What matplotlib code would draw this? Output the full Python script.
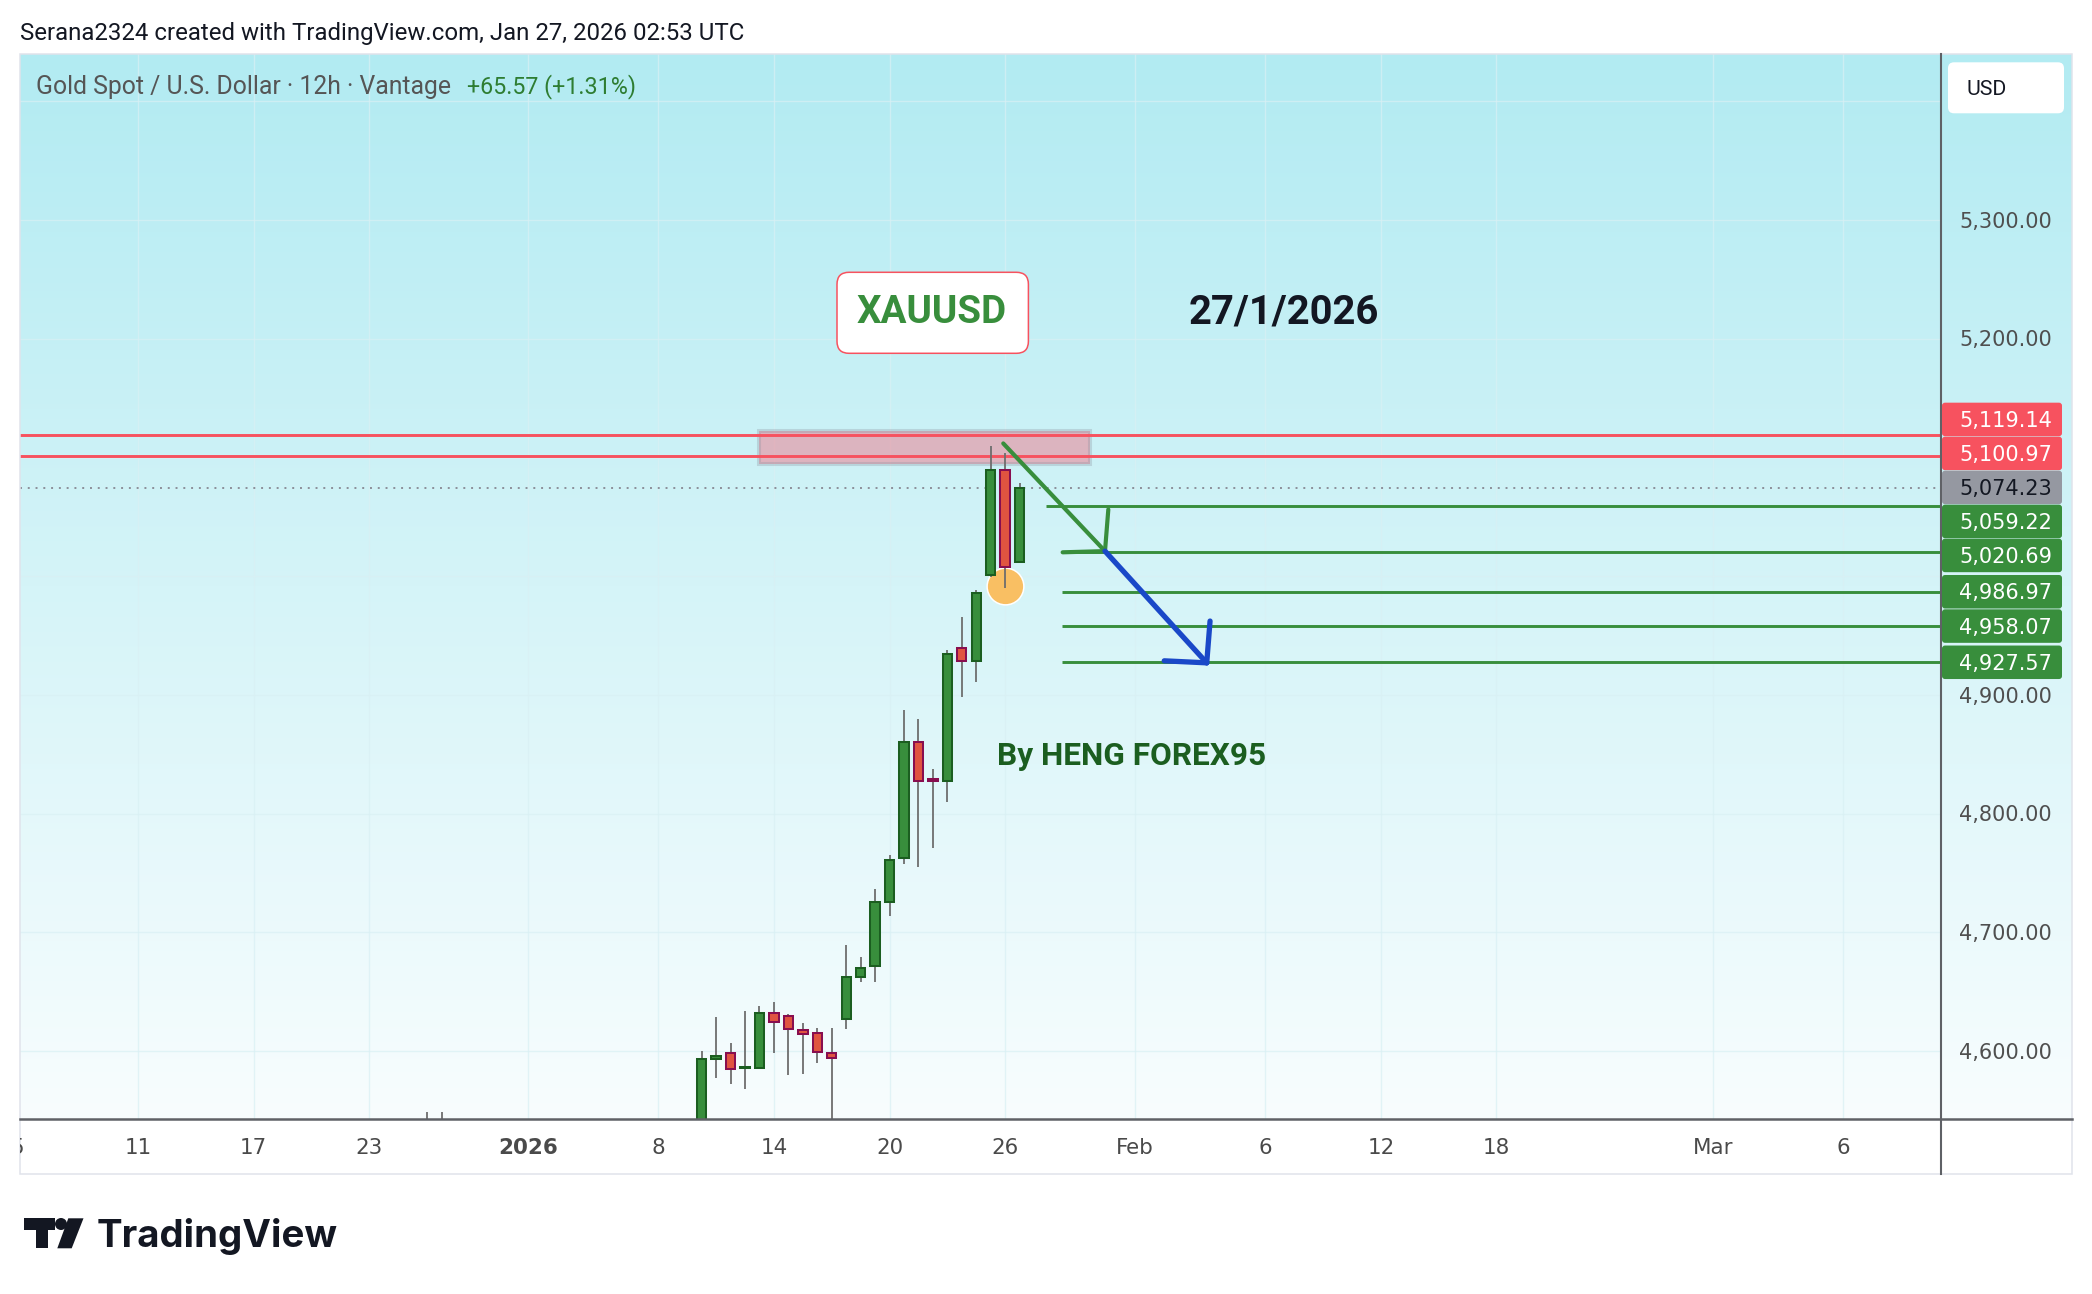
import numpy as np
import matplotlib
matplotlib.use("Agg")
import matplotlib.pyplot as plt
from matplotlib.patches import Rectangle, FancyBboxPatch, Polygon, Circle
from matplotlib.transforms import Bbox
from matplotlib.textpath import TextPath

W, H = 2092, 1294
DPI = 100

# ---------------- data (12h candles, bar index) ----------------
bar_index = [-19, -18, 0, 1, 2, 3, 4, 5, 6, 7, 8, 9, 10, 11, 12, 13, 14, 15, 16, 17, 18, 19, 20, 21, 22]
open_ = [4520, 4530, 4530.0, 4593.3, 4598.7, 4585.7, 4585.5, 4631.8, 4629.3, 4618.2, 4615.0, 4598.7,
         4626.8, 4662.4, 4671.4, 4725.3, 4762.4, 4860.6, 4829.3, 4827.5, 4939.3, 4928.6, 5001.0, 5089.4, 5012.0]
high = [4549, 4549, 4600.0, 4628.7, 4606.8, 4633.8, 4638.0, 4641.4, 4631.3, 4623.7, 4619.5, 4619.5,
        4689.4, 4679.3, 4736.5, 4765.2, 4887.3, 4879.7, 4837.6, 4938.0, 4965.9, 4988.4, 5109.7, 5103.5, 5078.2]
low = [4480, 4490, 4515.0, 4577.6, 4572.6, 4568.3, 4585.0, 4598.7, 4580.1, 4581.0, 4590.2, 4530.0,
       4619.0, 4658.5, 4658.5, 4714.0, 4757.3, 4755.3, 4771.3, 4810.1, 4898.5, 4911.1, 4999.0, 4989.8, 5011.0]
close = [4535, 4515, 4593.1, 4596.1, 4584.7, 4586.3, 4631.8, 4624.2, 4618.4, 4614.3, 4599.0, 4594.0,
         4662.2, 4669.7, 4725.3, 4761.2, 4860.6, 4827.5, 4827.8, 4934.7, 4928.6, 4986.1, 5089.4, 5008.0, 5074.23]

x_tick_pos = [-47.4, -39, -31, -23, -12, -3, 5, 13, 21, 30, 39, 47, 55, 70, 79]
x_tick_labels = ['5', '11', '17', '23', '2026', '8', '14', '20', '26', 'Feb', '6', '12', '18', 'Mar', '6']
y_ticks = [4600, 4700, 4800, 4900, 5000, 5100, 5200, 5300, 5400]

resistance_levels = [5119.14, 5100.97]
last_price = 5074.23
target_levels = [5059.22, 5020.69, 4986.97, 4958.07, 4927.57]
target_start = [23.85, 24.9, 24.9, 24.9, 24.9]

zone_x = [3.97, 26.87]
zone_y = [5094.2, 5122.3]

green_arrow_x = [20.87, 27.91]
green_arrow_y = [5111.9, 5021.2]
green_head_x = [28.14, 24.98]
green_head_y = [5056.3, 5020.2]
blue_arrow_x = [27.91, 34.95]
blue_arrow_y = [5021.2, 4927.1]
blue_head_x = [35.18, 32.01]
blue_head_y = [4962.3, 4928.8]

marker_x = [21.0]
marker_y = [4992.1]

# ---------------- figure ----------------
fig = plt.figure(figsize=(W / DPI, H / DPI), dpi=DPI, facecolor='white')

# background gradient panel
bg = fig.add_axes([0, 0, 1, 1], zorder=0)
top_rgb = np.array([178, 235, 242]) / 255
bot_rgb = np.array([248, 253, 254]) / 255
tt = np.linspace(0, 1, 512)[:, None]
grad = (top_rgb * (1 - tt) + bot_rgb * tt)[:, None, :]
bg.imshow(grad, extent=(20, 2072, 1119, 54), aspect='auto', interpolation='bilinear')
bg.set_xlim(0, W)
bg.set_ylim(H, 0)
bg.set_axis_off()

# main price axes
ax = fig.add_axes([20 / W, (H - 1119) / H, (1940 - 20) / W, (1119 - 54) / H], zorder=1)
ax.set_facecolor('none')
x_lo = (20 - 701.7) / 14.45
x_hi = (1940 - 701.7) / 14.45
ax.set_xlim(x_lo, x_hi)
ax.set_ylim(4542.9, 5439.9)
ax.set_axis_off()

for p in y_ticks:
    ax.axhline(p, color='#d9f0f4', lw=1.0, alpha=0.7, zorder=0.5)
for xt in x_tick_pos:
    ax.axvline(xt, color='#d9f0f4', lw=1.0, alpha=0.7, zorder=0.5)

# resistance zone
ax.add_patch(Rectangle((zone_x[0], zone_y[0]), zone_x[1] - zone_x[0], zone_y[1] - zone_y[0],
                       facecolor=(0.96, 0.38, 0.46, 0.42), edgecolor=(0.55, 0.57, 0.62, 0.30),
                       lw=2.9, zorder=1))
for r in resistance_levels:
    ax.axhline(r, color='#f7525f', lw=2.1, zorder=1.5)
ax.axhline(last_price, color='#8c8f99', lw=1.4, ls=(0, (1.0, 3.0)), zorder=1.5)
for lv, st in zip(target_levels, target_start):
    ax.hlines(lv, st, x_hi, color='#388e3c', lw=2.1, zorder=1.5)

ax.scatter(marker_x, marker_y, s=700, color='#f9bf63', edgecolor='white', linewidth=1.1, zorder=1.8)

# candles
for i, o, h, l, c in zip(bar_index, open_, high, low, close):
    up = c >= o
    ax.vlines(i, l, h, color='#6e6e6e', lw=1.3, zorder=2)
    fc = '#388e3c' if up else '#e05440'
    ec = '#1b5e20' if up else '#880e4f'
    ax.add_patch(Rectangle((i - 0.325, min(o, c)), 0.65, max(abs(c - o), 0.3),
                           facecolor=fc, edgecolor=ec, lw=1.45, zorder=3))

# arrows
ax.plot(green_arrow_x, green_arrow_y, color='#388e3c', lw=3.0, solid_capstyle='round', zorder=6)
for hx, hy in zip(green_head_x, green_head_y):
    ax.plot([green_arrow_x[1], hx], [green_arrow_y[1], hy], color='#388e3c', lw=3.0,
            solid_capstyle='round', zorder=6)
ax.plot(blue_arrow_x, blue_arrow_y, color='#1a48c8', lw=3.8, solid_capstyle='round', zorder=7)
for hx, hy in zip(blue_head_x, blue_head_y):
    ax.plot([blue_arrow_x[1], hx], [blue_arrow_y[1], hy], color='#1a48c8', lw=3.8,
            solid_capstyle='round', zorder=7)

# ---------------- overlay (pixel coordinates, y down) ----------------
ov = fig.add_axes([0, 0, 1, 1], zorder=3)
ov.set_xlim(0, W)
ov.set_ylim(H, 0)
ov.set_axis_off()
ov.set_facecolor('none')

R = fig.canvas.get_renderer()


def to_ov(xb, p):
    dx, dy = ax.transData.transform((xb, p))
    return dx, H - dy


def cap_px(t, ch='H'):
    px = t.get_fontsize() * DPI / 72
    return TextPath((0, 0), ch, size=px, prop=t.get_fontproperties()).get_extents().height


def put(s, x0, yc, width=None, size=15, family=('Roboto', 'DejaVu Sans'), weight='normal',
        color='#131722', ha='left', zorder=5):
    t = ov.text(x0, yc, s, fontsize=size, family=list(family), fontweight=weight, color=color,
                ha=ha, va='baseline', zorder=zorder)
    if width is not None:
        bb = t.get_window_extent(renderer=R)
        t.set_fontsize(size * width / bb.width)
    t.set_y(yc + cap_px(t) / 2)
    return t


# frame
ov.add_patch(Rectangle((20, 54), 2052, 1120, fill=False, edgecolor='#e0e3eb', lw=1.1, zorder=1))
ov.plot([1940.5, 1940.5], [54, 1174], color='#5f6166', lw=1.5, zorder=2)
ov.plot([20, 2072], [1119, 1119], color='#5f6166', lw=1.8, zorder=2)

# header texts
put('Serana2324 created with TradingView.com, Jan 27, 2026 02:53 UTC', 20, 31, width=724)
put('Gold Spot / U.S. Dollar \u00b7 12h \u00b7 Vantage', 36, 85, width=416, color='#555555')
put('+65.57 (+1.31%)', 467, 85, width=169, color='#2e7d32')

# annotations
ov.add_patch(FancyBboxPatch((837, 272.3), 191.4, 81, boxstyle='round,pad=0,rounding_size=12',
                            facecolor='white', edgecolor='#f7525f', lw=1.1, zorder=4))
put('XAUUSD', 857, 309.3, width=150, weight='bold', color='#388e3c')
put('27/1/2026', 1188.5, 309.3, width=191, weight='bold', color='#131722')
put('By HENG FOREX95', 996.7, 753.3, width=270.6, weight='bold', color='#1b5e20')

# time axis labels
clipbox = Bbox([[20, 0], [2072, H]])
ref = put('Feb', 0, 1146.7, width=38, family=('DejaVu Sans',), color='#4a4a4a')
ref.set_visible(False)
tsize = ref.get_fontsize()
for xb, lab in zip(x_tick_pos, x_tick_labels):
    px, _ = to_ov(xb, 5000)
    t = put(lab, px, 1146.7, size=tsize, family=('DejaVu Sans',),
            weight='bold' if lab == '2026' else 'normal', color='#4a4a4a', ha='center')
    t.set_clip_on(True)
    t.set_clip_box(clipbox)

# price label boxes (layout: overlapping labels are stacked around their mean)
label_prices = resistance_levels + [last_price] + target_levels
label_kind = ['red', 'red', 'last'] + ['green'] * len(target_levels)
ys = [to_ov(0, p)[1] for p in label_prices]
BH = 34
order = list(np.argsort(ys))
groups = [[k] for k in order]


def positions(g):
    c = np.mean([ys[k] for k in g])
    n = len(g)
    return [c + (j - (n - 1) / 2) * BH for j in range(n)]


changed = True
while changed:
    changed = False
    for gi in range(len(groups) - 1):
        a = positions(groups[gi])
        b = positions(groups[gi + 1])
        if a[-1] + BH - 1 > b[0]:
            groups[gi] = groups[gi] + groups[gi + 1]
            del groups[gi + 1]
            changed = True
            break

box_spans = [(62.3, 113.3)]  # USD box
colors = {'red': ('#f7525f', 'white'), 'last': ('#9598a1', '#131722'), 'green': ('#388e3c', 'white')}
for g in groups:
    for k, yy in zip(g, positions(g)):
        fc, tc = colors[label_kind[k]]
        ov.add_patch(FancyBboxPatch((1942, yy - 16.75), 120, 33.5,
                                    boxstyle='round,pad=0,rounding_size=3',
                                    facecolor=fc, edgecolor='none', zorder=6))
        box_spans.append((yy - 16.75, yy + 16.75))
        put(f'{label_prices[k]:,.2f}', 1959, yy, size=15, family=('DejaVu Sans',), color=tc, zorder=7)

# price axis tick labels (those hidden under a label box are not drawn)
for p in y_ticks:
    _, py = to_ov(0, p)
    if any(a - 6 < py < b + 6 for a, b in box_spans):
        continue
    put(f'{p:,.2f}', 1959, py, size=15, family=('DejaVu Sans',), color='#4f4f4f', zorder=3)

# USD box
ov.add_patch(FancyBboxPatch((1948, 62.3), 116, 51, boxstyle='round,pad=0,rounding_size=6',
                            facecolor='white', edgecolor='none', zorder=6))
put('USD', 1966.7, 87.7, width=40.6, color='#131722', zorder=7)

# TradingView logo
ov.add_patch(Rectangle((24, 1218.3), 31, 11.7, facecolor='#131722', edgecolor='none'))
ov.add_patch(Rectangle((35.7, 1218.3), 12.6, 30, facecolor='#131722', edgecolor='none'))
ov.add_patch(Circle((61, 1224), 6, facecolor='#131722', edgecolor='none'))
ov.add_patch(Polygon([(68.3, 1218.3), (83.5, 1218.3), (71.7, 1248.3), (57.3, 1248.3)],
                     closed=True, facecolor='#131722', edgecolor='none'))
put('TradingView', 97, 1233.3, width=241, family=('Inter', 'DejaVu Sans'), weight='bold', color='#131722')

fig.savefig('out.png', dpi=DPI, facecolor='white')
